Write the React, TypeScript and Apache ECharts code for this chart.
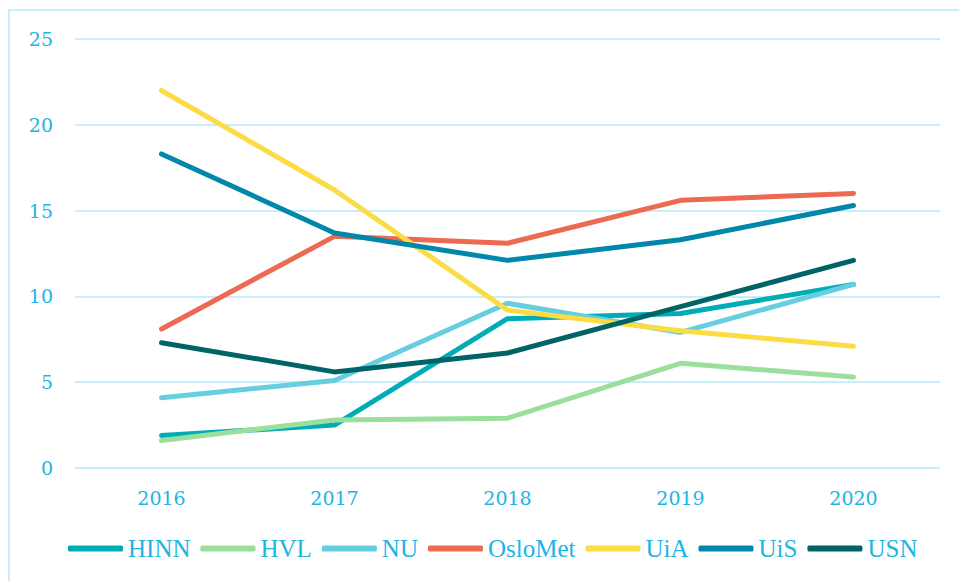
import React, { useEffect, useRef } from "react";
import * as echarts from "echarts";

const years = ["2016", "2017", "2018", "2019", "2020"];
const seriesNames = ["HINN", "HVL", "NU", "OsloMet", "UiA", "UiS", "USN"];
const hinn = [1.9, 2.5, 8.7, 9.0, 10.7];
const hvl = [1.6, 2.8, 2.9, 6.1, 5.3];
const nu = [4.1, 5.1, 9.6, 7.9, 10.7];
const oslomet = [8.1, 13.5, 13.1, 15.6, 16.0];
const uia = [22.0, 16.2, 9.2, 8.0, 7.1];
const uis = [18.3, 13.7, 12.1, 13.3, 15.3];
const usn = [7.3, 5.6, 6.7, 9.4, 12.1];
const colors = ["#00adb7", "#9adf9b", "#66cfdf", "#ec6a52", "#fbdc44", "#0087aa", "#006467"];

const AXIS_FONT = "DejaVu Serif";
const LEGEND_FONT = "Liberation Serif";
const TEXT = "#1db4e6";
const GRID = "#c6effb";

export default function App() {
  const ref = useRef<HTMLDivElement>(null);
  useEffect(() => {
    const chart = echarts.init(ref.current!, undefined, { renderer: "svg" });
    const data = [hinn, hvl, nu, oslomet, uia, uis, usn];
    chart.setOption({
      animation: false,
      backgroundColor: "#ffffff",
      graphic: [
        {
          type: "rect",
          shape: { x: 9, y: 10, width: 1000, height: 1000 },
          style: { fill: "none", stroke: GRID, lineWidth: 2 },
          silent: true,
        },
      ],
      grid: { left: 75, right: 19, top: 39, bottom: 113, containLabel: false, outerBoundsMode: "none" },
      legend: {
        top: 531,
        left: 63,
        icon: "roundRect",
        itemWidth: 55,
        itemHeight: 6,
        itemGap: 10,
        textStyle: { color: TEXT, fontFamily: LEGEND_FONT, fontSize: 25 },
        data: seriesNames,
      },
      xAxis: {
        type: "category",
        data: years,
        boundaryGap: true,
        axisLine: { show: false },
        axisTick: { show: false },
        axisLabel: { color: TEXT, fontFamily: AXIS_FONT, fontSize: 19, margin: 20 },
      },
      yAxis: {
        type: "value",
        min: 0,
        max: 25,
        interval: 5,
        axisLine: { show: false },
        axisTick: { show: false },
        axisLabel: { color: TEXT, fontFamily: AXIS_FONT, fontSize: 19, margin: 22 },
        splitLine: { lineStyle: { color: GRID, width: 2 } },
      },
      series: seriesNames.map((name, i) => ({
        name,
        type: "line",
        data: data[i],
        showSymbol: false,
        symbol: "none",
        color: colors[i],
        lineStyle: { width: 5, color: colors[i], cap: "round", join: "round" },
      })),
    });
    return () => chart.dispose();
  }, []);
  return (
    <div
      ref={ref}
      style={{ position: "absolute", left: 0, top: 0, width: 959, height: 581 }}
    />
  );
}
